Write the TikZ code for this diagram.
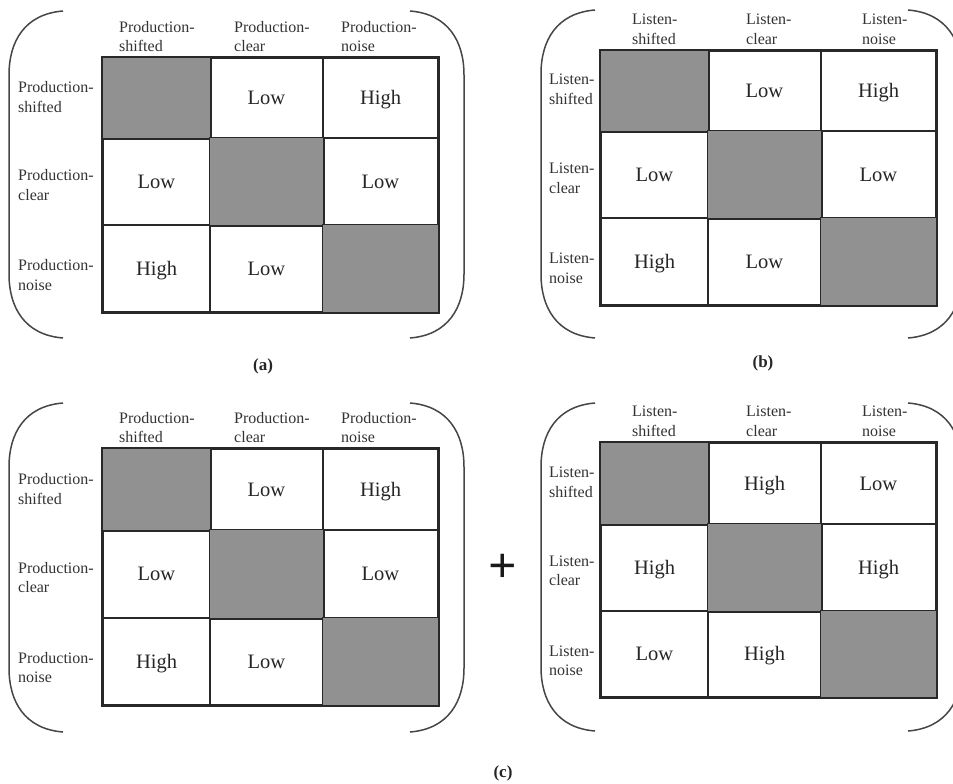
\documentclass[tikz,border=0pt]{standalone}
\usepackage{fontspec}
\setmainfont{Liberation Serif}
\definecolor{cellgray}{RGB}{145,145,145}
\definecolor{linecol}{RGB}{40,40,40}
\definecolor{parcol}{RGB}{70,70,70}
\tikzset{
 cellbox/.style={draw=linecol, line width=1.5pt, fill=white, inner sep=0pt},
 outerbox/.style={draw=linecol, line width=2.2pt},
 val/.style={font=\fontsize{20.5}{24}\selectfont, text height=13.5pt, text depth=0pt, inner sep=0pt, text=black!85},
 lab/.style={font=\fontsize{16}{19.5}\selectfont, align=left, anchor=west, inner sep=0pt, text=black!80},
 paren/.style={draw=parcol, line width=1.5pt},
 capt/.style={font=\fontsize{17}{20}\selectfont\bfseries, inner sep=0pt, text=black!85},
}
\newcommand\mkgrid[9]{%
 \foreach \i/\ya/\yb in {1/#6/#7,2/#7/#8,3/#8/#9}{%
  \foreach \j/\xa/\xb in {1/#2/#3,2/#3/#4,3/#4/#5}{%
   \node[cellbox, minimum width={(\xb-\xa)*1pt}, minimum height={(\yb-\ya)*1pt}] (#1-\i-\j) at ({(\xa+\xb)/2},{(\ya+\yb)/2}) {};
  }}%
 \foreach \k in {1,2,3}{\path[cellbox, fill=cellgray] (#1-\k-\k.south west) rectangle (#1-\k-\k.north east);}%
 \draw[outerbox] (#1-1-1.north west) rectangle (#1-3-3.south east);
}
\newcommand\mkvals[7]{%
 \node[val] (#1-v12) at (#1-1-2) {#2};
 \node[val] (#1-v13) at (#1-1-3) {#3};
 \node[val] (#1-v21) at (#1-2-1) {#4};
 \node[val] (#1-v23) at (#1-2-3) {#5};
 \node[val] (#1-v31) at (#1-3-1) {#6};
 \node[val] (#1-v32) at (#1-3-2) {#7};
}
% #1 left end x, #2 right end x, #3 top y, #4 bottom y
\newcommand\mkparens[4]{%
 \draw[paren] (#1,#3) .. controls ({#1-38},{#3+3}) and ({#1-54},{#3+30}) .. ({#1-54},{#3+64})
   -- ({#1-54},{#4-64}) .. controls ({#1-54},{#4-30}) and ({#1-38},{#4-3}) .. (#1,#4);
 \draw[paren] (#2,#3) .. controls ({#2+38},{#3+3}) and ({#2+54},{#3+30}) .. ({#2+54},{#3+64})
   -- ({#2+54},{#4-64}) .. controls ({#2+54},{#4-30}) and ({#2+38},{#4-3}) .. (#2,#4);
}
\begin{document}
\begin{tikzpicture}[x=1pt,y=-1pt]
\useasboundingbox (0,0) rectangle (953,784);
\clip (0,0) rectangle (953,784);
\fill[white] (0,0) rectangle (953,784);

% ---------- (a) top-left ----------
\mkparens{63}{410}{11}{338}
\mkgrid{tl}{103}{210}{323}{438}{58}{138}{225}{312}
\mkvals{tl}{Low}{High}{Low}{Low}{High}{Low}
\node[lab] (tl-h1) at (119,36.5) {Production-\\shifted};
\node[lab] (tl-h2) at (234,36.5) {Production-\\clear};
\node[lab] (tl-h3) at (341,36.5) {Production-\\noise};
\node[lab] (tl-r1) at (18,97) {Production-\\shifted};
\node[lab] (tl-r2) at (18,185) {Production-\\clear};
\node[lab] (tl-r3) at (18,275) {Production-\\noise};
\node[capt] (capa) at (263,366) {(a)};

% ---------- (b) top-right ----------
\mkparens{595}{908}{10}{338}
\mkgrid{tr}{601}{708}{821}{936}{51}{131}{218}{305}
\mkvals{tr}{Low}{High}{Low}{Low}{High}{Low}
\node[lab] (tr-h1) at (632,29.5) {Listen-\\shifted};
\node[lab] (tr-h2) at (746,29.5) {Listen-\\clear};
\node[lab] (tr-h3) at (862,29.5) {Listen-\\noise};
\node[lab] (tr-r1) at (549,89.5) {Listen-\\shifted};
\node[lab] (tr-r2) at (549,178.5) {Listen-\\clear};
\node[lab] (tr-r3) at (549,268.5) {Listen-\\noise};
\node[capt] (capb) at (763,363) {(b)};

% ---------- (c) bottom-left ----------
\mkparens{63}{410}{403}{732}
\mkgrid{bl}{103}{210}{323}{438}{449}{530}{618}{705}
\mkvals{bl}{Low}{High}{Low}{Low}{High}{Low}
\node[lab] (bl-h1) at (119,427.5) {Production-\\shifted};
\node[lab] (bl-h2) at (234,427.5) {Production-\\clear};
\node[lab] (bl-h3) at (341,427.5) {Production-\\noise};
\node[lab] (bl-r1) at (18,489) {Production-\\shifted};
\node[lab] (bl-r2) at (18,577.5) {Production-\\clear};
\node[lab] (bl-r3) at (18,667.5) {Production-\\noise};

% ---------- (c) bottom-right ----------
\mkparens{595}{908}{403}{731}
\mkgrid{br}{601}{708}{821}{936}{443}{524}{611}{697}
\mkvals{br}{High}{Low}{High}{High}{Low}{High}
\node[lab] (br-h1) at (632,421.5) {Listen-\\shifted};
\node[lab] (br-h2) at (746,421.5) {Listen-\\clear};
\node[lab] (br-h3) at (862,421.5) {Listen-\\noise};
\node[lab] (br-r1) at (549,482.5) {Listen-\\shifted};
\node[lab] (br-r2) at (549,571) {Listen-\\clear};
\node[lab] (br-r3) at (549,661) {Listen-\\noise};

\node[font=\fontsize{50}{52}\selectfont\bfseries, inner sep=0pt, text=black!90] (plus) at (503,568) {+};
\node[capt] (capc) at (503,773) {(c)};
\end{tikzpicture}
\end{document}
